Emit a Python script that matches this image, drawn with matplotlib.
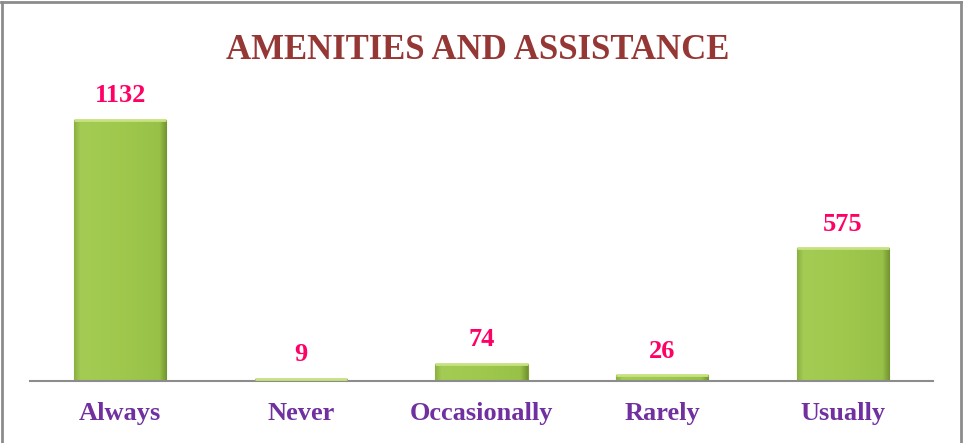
import matplotlib.pyplot as plt
import numpy as np
from matplotlib.lines import Line2D
from matplotlib.colors import LinearSegmentedColormap

# Chart data
categories = ['Always', 'Never', 'Occasionally', 'Rarely', 'Usually']
counts = [1132, 9, 74, 26, 575]

fig = plt.figure(figsize=(9.63, 4.43), dpi=100)
ax = fig.add_axes([30 / 963, 62 / 443, 903 / 963, 323 / 443])

x = np.arange(len(categories))
bars = ax.bar(x, counts, width=0.51, color='#9CC64B', edgecolor='#7F9E3A',
              linewidth=0.8, zorder=2)

# fake bevel: horizontal gradient clipped to each bar
grad = np.linspace(0, 1, 256).reshape(1, -1)
cmap = LinearSegmentedColormap.from_list(
    'bevel', [(0, '#8AB040'), (0.07, '#A4CC54'), (0.5, '#9FC84D'),
              (0.92, '#98C148'), (1, '#729330')])
for b in bars:
    x0, y0 = b.get_x(), b.get_y()
    im = ax.imshow(grad, cmap=cmap, aspect='auto', zorder=2.5,
                   extent=(x0, x0 + b.get_width(), y0, y0 + b.get_height()))
    im.set_clip_path(b)
    # lighter top edge
    top = b.get_height()
    ax.plot([x0, x0 + b.get_width()], [top, top], color='#C8E282', lw=2,
            zorder=3, solid_capstyle='butt')

for xi, v in zip(x, counts):
    ax.annotate(str(v), xy=(xi, v), xytext=(0, 9), textcoords='offset points',
                ha='center', va='bottom', fontsize=19, fontweight='bold',
                family='Liberation Serif', color='#FF0066')

ax.set_xlim(-0.5, len(categories) - 0.5)
ax.set_ylim(0, 1400)
ax.set_xticks(x)
ax.set_xticklabels(categories, fontsize=19, fontweight='bold',
                   family='Liberation Serif', color='#7030A0')
ax.tick_params(axis='x', length=0, pad=15)
ax.set_yticks([])
for s in ['top', 'left', 'right']:
    ax.spines[s].set_visible(False)
ax.spines['bottom'].set_color('#8C8C8C')
ax.spines['bottom'].set_linewidth(1.5)

fig.text(0.496, 0.887, 'AMENITIES AND ASSISTANCE', ha='center', va='center',
         fontsize=25, fontweight='bold', family='Liberation Serif',
         color='#953735')

# outer border (top, left, right)
border = dict(color='#8C8C8C', lw=2, transform=fig.transFigure)
fig.add_artist(Line2D([0.001, 0.999], [0.996, 0.996], **border))
fig.add_artist(Line2D([0.002, 0.002], [0, 0.996], **border))
fig.add_artist(Line2D([0.998, 0.998], [0, 0.996], **border))

fig.savefig('out.png', dpi=100)
